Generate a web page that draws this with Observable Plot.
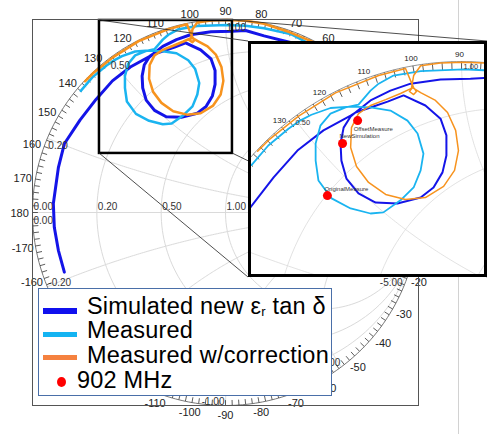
<!DOCTYPE html>
<html><head><meta charset="utf-8">
<script src="https://cdn.jsdelivr.net/npm/d3@7"></script>
<script src="https://cdn.jsdelivr.net/npm/@observablehq/plot@0.6"></script>
<style>
body{margin:0;background:#fff;font-family:"Liberation Sans",Arial,sans-serif;}
#wrap{position:relative;width:491px;height:434px;overflow:hidden;background:#fff;}
.abs{position:absolute;}
#inset{position:absolute;left:248px;top:41px;width:239px;height:236px;border:3px solid #000;box-sizing:border-box;background:#fff;overflow:hidden;}
.legbox{position:absolute;left:38px;top:288px;width:294px;height:108px;border:1.5px solid #4a6fa8;box-sizing:border-box;background:#fff;}
.legtxt{position:absolute;font-size:23.5px;line-height:20px;letter-spacing:0.2px;white-space:nowrap;color:#000;}
.sw{position:absolute;left:43px;width:34px;}
</style></head><body>
<div id="wrap"></div>
<script>
// ---------- data (reflection coefficient, real / imaginary) ----------
const seriesNames = ["Simulated new εr tan δ", "Measured", "Measured w/correction"];
const simRe = [-0.835,-0.866,-0.887,-0.892,-0.866,-0.835,-0.754,-0.671,-0.586,-0.493,-0.396,-0.379,-0.325,-0.264,-0.207,-0.129,-0.075,-0.054,-0.054,-0.068,-0.100,-0.146,-0.229,-0.307,-0.368,-0.411,-0.429,-0.432,-0.421,-0.396,-0.379,-0.325,-0.254,-0.182,-0.075,0.032,0.104,0.200,0.337,0.500,0.640];
const simIm = [-0.309,-0.196,-0.077,0.046,0.232,0.356,0.479,0.586,0.682,0.754,0.807,0.818,0.836,0.857,0.879,0.843,0.796,0.736,0.664,0.604,0.550,0.514,0.493,0.496,0.529,0.582,0.646,0.707,0.764,0.804,0.818,0.861,0.896,0.921,0.936,0.939,0.943,0.915,0.881,0.790,0.680];
const measRe = [-0.750,-0.690,-0.618,-0.575,-0.536,-0.468,-0.396,-0.325,-0.254,-0.193,-0.157,-0.136,-0.146,-0.171,-0.218,-0.279,-0.325,-0.396,-0.464,-0.511,-0.521,-0.521,-0.504,-0.468,-0.414,-0.368,-0.325,-0.296,-0.243,-0.146,0.007,0.104,0.200,0.337,0.500,0.620];
const measIm = [0.630,0.700,0.760,0.790,0.810,0.834,0.839,0.836,0.825,0.789,0.743,0.671,0.611,0.550,0.504,0.461,0.457,0.475,0.511,0.575,0.646,0.707,0.771,0.814,0.836,0.846,0.896,0.921,0.950,0.966,0.972,0.968,0.955,0.925,0.840,0.750];
const corrRe = [-0.728,-0.688,-0.582,-0.450,-0.296,-0.200,-0.182,-0.171,-0.161,-0.171,-0.186,-0.175,-0.146,-0.093,-0.050,-0.021,-0.011,-0.025,-0.064,-0.129,-0.200,-0.271,-0.332,-0.375,-0.396,-0.393,-0.368,-0.325,-0.271,-0.218,-0.179,-0.171,-0.146,-0.075,0.007,0.104,0.200,0.330,0.474,0.620];
const corrIm = [0.680,0.720,0.805,0.888,0.950,0.975,0.932,0.907,0.893,0.882,0.893,0.907,0.889,0.861,0.818,0.754,0.682,0.611,0.554,0.514,0.507,0.525,0.568,0.625,0.693,0.764,0.814,0.843,0.864,0.886,0.904,0.950,0.985,0.995,0.998,0.994,0.978,0.935,0.875,0.770];
const markerLabel = "902 MHz";
const markerNames = ["OffsetMeasure","NewSimulation","OriginalMeasure"];
const markerRe = [-0.371,-0.425,-0.479];
const markerIm = [0.789,0.707,0.521];
const angleLabels = [-170,-160,-150,-140,-130,-120,-110,-100,-90,-80,-70,-60,-50,-40,-30,-20,-10,0,10,20,30,40,50,60,70,80,90,100,110,120,130,140,150,160,170,180];
const rValues = [0.2,0.5,1,2,5];
const xValues = [0.2,0.5,1,2,5];
const rLabelValues = [0,0.2,0.5,1,2,5];
const xLabelValues = [0,0.2,0.5,1,2,5,-0.2,-0.5,-1,-2,-5];
const zoomRe = [-0.653,0.036];
const zoomIm = [0.306,0.995];
const insetRe = [-0.75,0.082];
const insetIm = [0.239,1.061];

// ---------- layout ----------
const W=491, H=434, ML=32, MR=73, MT=19, MB=29;
const insetBox = {left:248, top:41, right:487, bottom:277};
const legendBox = {left:38, top:288, right:332, bottom:396};

// ---------- helpers ----------
const FONT = "Liberation Sans, Arial, sans-serif";
const rad = a => a*Math.PI/180;
const pts = (re, im) => re.map((r,i)=>({re:r, im:im[i]}));
const sim = pts(simRe, simIm), meas = pts(measRe, measIm), corr = pts(corrRe, corrIm);
const markers = markerNames.map((n,i)=>({name:n, re:markerRe[i], im:markerIm[i]}));
const C_SIM="#1414e8", C_MEAS="#1ab4f0", C_CORR="#f7931e";

const pageX = re => ML + (re+1)/2*(W-ML-MR);
const pageY = im => MT + (1-im)/2*(H-MT-MB);
const inBox = (x,y,b,px,py) => x>b.left+px && x<b.right-px && y>b.top+py && y<b.bottom-py;
const visible = (re,im,dx=0,dy=0) => {const x=pageX(re)+dx, y=pageY(im)+dy;
  return !inBox(x,y,insetBox,6,3) && !inBox(x,y,legendBox,6,3);};

function gridLines(){
  const out=[];
  rValues.forEach(r=>{const c=r/(1+r), rr=1/(1+r);
    for(let a=0;a<=360;a+=2) out.push({id:"r"+r, re:c+rr*Math.cos(rad(a)), im:rr*Math.sin(rad(a))});});
  xValues.forEach(x=>[x,-x].forEach(xv=>{
    for(let u=0;u<89.95;u+=0.5){const s=Math.tan(rad(u)); const D=(s+1)**2+xv*xv;
      out.push({id:"x"+xv, re:(s*s+xv*xv-1)/D, im:2*xv/D});}
    out.push({id:"x"+xv, re:1, im:0});}));
  out.push({id:"axis",re:-1,im:0},{id:"axis",re:1,im:0});
  return out;
}
const grid = gridLines();
const ring = d3.range(0,361,1).map(a=>({re:Math.cos(rad(a)), im:Math.sin(rad(a))}));
const tickAngles = d3.range(0,360,2);
const xPos = x => ({v:x, re:(x*x-1)/(x*x+1), im:2*x/(x*x+1)});
const fmt = v => v.toFixed(2);

const angleMain = angleLabels.map(a=>({a, re:1.067*Math.cos(rad(a)), im:1.045*Math.sin(rad(a))-0.005}))
  .filter(d=>visible(d.re,d.im));
const rl = rLabelValues.map(r=>({v:r, re:(r-1)/(r+1), im:0})).filter(d=>visible(d.re,d.im,10,-6));
const xl = xLabelValues.map(xPos).filter(d=>visible(d.re,d.im,0,d.v>=0?8:-4));
const xlPosStart = xl.filter(d=>d.v>=0 && d.re<=0.01);
const xlPosEnd = xl.filter(d=>d.v>=0 && d.re>0.01);
const xlNegStart = xl.filter(d=>d.v<0 && d.re<-0.01);
const xlNegEnd = xl.filter(d=>d.v<0 && d.re>=-0.01);

function chartMarks(o){
  return [
    Plot.line(grid, {x:"re", y:"im", z:"id", stroke:"#dadada", strokeWidth:o.gw, clip:o.clip}),
    Plot.line(ring, {x:"re", y:"im", stroke:"#777", strokeWidth:o.gw, clip:o.clip}),
    Plot.link(tickAngles, {x1:a=>Math.cos(rad(a)), y1:a=>Math.sin(rad(a)), x2:a=>0.972*Math.cos(rad(a)), y2:a=>0.972*Math.sin(rad(a)), stroke:"#333", strokeWidth:0.8, clip:o.clip}),
  ];
}

const wrap = document.getElementById("wrap");

// ---------- main Smith chart ----------
const main = Plot.plot({
  width:W, height:H, marginLeft:ML, marginRight:MR, marginTop:MT, marginBottom:MB,
  x:{domain:[-1,1], axis:null}, y:{domain:[-1,1], axis:null},
  style:{fontFamily:FONT, background:"white", overflow:"visible"},
  marks:[
    ...chartMarks({gw:1, clip:false}),
    Plot.line(sim, {x:"re", y:"im", stroke:C_SIM, strokeWidth:3, strokeLinejoin:"round", strokeLinecap:"round"}),
    Plot.line(meas, {x:"re", y:"im", stroke:C_MEAS, strokeWidth:2.5, strokeLinejoin:"round"}),
    Plot.line(corr, {x:"re", y:"im", stroke:C_CORR, strokeWidth:2.5, strokeLinejoin:"round"}),
    Plot.text(angleMain, {x:"re", y:"im", text:d=>String(d.a), fontSize:11, fill:"#222"}),
    Plot.text(rl, {x:"re", y:"im", text:d=>fmt(d.v), textAnchor:"start", dx:1, dy:-6, fontSize:10, fill:"#333"}),
    Plot.text(xlPosStart, {x:"re", y:"im", text:d=>fmt(d.v), textAnchor:"start", dx:1, dy:8, fontSize:10, fill:"#333"}),
    Plot.text(xlPosEnd, {x:"re", y:"im", text:d=>fmt(d.v), textAnchor:"end", dx:-1, dy:8, fontSize:10, fill:"#333"}),
    Plot.text(xlNegStart, {x:"re", y:"im", text:d=>fmt(d.v), textAnchor:"start", dx:1, dy:-4, fontSize:10, fill:"#333"}),
    Plot.text(xlNegEnd, {x:"re", y:"im", text:d=>fmt(d.v), textAnchor:"end", dx:-1, dy:-4, fontSize:10, fill:"#333"}),
    Plot.rect([0], {x1:()=>zoomRe[0], x2:()=>zoomRe[1], y1:()=>zoomIm[0], y2:()=>zoomIm[1], fill:"none", stroke:"#000", strokeWidth:2.5}),
    Plot.frame({stroke:"#555", strokeWidth:1})
  ]
});
main.style.position="absolute"; main.style.left="0px"; main.style.top="0px";
wrap.appendChild(main);

// page divider line
const vline = document.createElement("div");
vline.className="abs"; Object.assign(vline.style,{left:"458px",top:"0px",width:"1px",height:"434px",background:"#d2d2d2"});
wrap.appendChild(vline);

// ---------- zoom connector lines ----------
const sx = main.scale("x"), sy = main.scale("y");
const zx0=sx.apply(zoomRe[0]), zx1=sx.apply(zoomRe[1]), zyT=sy.apply(zoomIm[1]), zyB=sy.apply(zoomIm[0]);
const conn = [
  [zx0,zyT,insetBox.left,insetBox.top],[zx1,zyT,insetBox.right,insetBox.top],
  [zx0,zyB,insetBox.left,insetBox.bottom],[zx1,zyB,insetBox.right,insetBox.bottom]];
const ov = d3.create("svg").attr("width",W).attr("height",H).style("position","absolute").style("left","0px").style("top","0px");
ov.selectAll("line").data(conn).join("line")
  .attr("x1",d=>d[0]).attr("y1",d=>d[1]).attr("x2",d=>d[2]).attr("y2",d=>d[3])
  .attr("stroke","#222").attr("stroke-width",0.8);
wrap.appendChild(ov.node());

// ---------- inset (zoomed view) ----------
const insetDiv = document.createElement("div"); insetDiv.id="inset"; wrap.appendChild(insetDiv);
const insetAngles = angleLabels.filter(a=>a>=85 && a<=135);
const offsetM = markers.filter(d=>d.name==="OffsetMeasure");
const otherM = markers.filter(d=>d.name!=="OffsetMeasure");
const inset = Plot.plot({
  width:233, height:230, margin:0,
  x:{domain:insetRe, axis:null}, y:{domain:insetIm, axis:null},
  style:{fontFamily:FONT, background:"white"},
  marks:[
    ...chartMarks({gw:0.8, clip:true}),
    Plot.line(sim, {x:"re", y:"im", stroke:C_SIM, strokeWidth:2, strokeLinejoin:"round", clip:true}),
    Plot.line(meas, {x:"re", y:"im", stroke:C_MEAS, strokeWidth:1.8, strokeLinejoin:"round", clip:true}),
    Plot.line(corr, {x:"re", y:"im", stroke:C_CORR, strokeWidth:1.5, strokeLinejoin:"round", clip:true}),
    Plot.text(insetAngles, {x:a=>Math.cos(rad(a)), y:a=>Math.sin(rad(a)), text:a=>String(a), dx:-2, dy:-7, fontSize:8, fill:"#222"}),
    Plot.text([0.5,1], {x:v=>xPos(v).re, y:v=>xPos(v).im, text:fmt, textAnchor:"start", dx:2, dy:5, fontSize:7.5, fill:"#333"}),
    Plot.dot(markers, {x:"re", y:"im", r:4.5, fill:"#ff0000", stroke:"none"}),
    Plot.text(offsetM, {x:"re", y:"im", text:"name", textAnchor:"start", dx:-4, dy:8, fontSize:6, fill:"#333"}),
    Plot.text(otherM, {x:"re", y:"im", text:"name", textAnchor:"start", dx:-3, dy:-7, fontSize:6, fill:"#333"})
  ]
});
inset.style.display="block";
insetDiv.appendChild(inset);

// ---------- legend ----------
const legBox = document.createElement("div"); legBox.className="legbox"; wrap.appendChild(legBox);
const legColors = ["#1010ee","#14b4f2","#f5813f"];
const legH = [6,5,5];
const swY = [311,334,357];
const txtTop = [295.9,320.4,344.9];
seriesNames.forEach((n,i)=>{
  const s=document.createElement("div"); s.className="sw";
  Object.assign(s.style,{top:(swY[i]-legH[i]/2)+"px",height:legH[i]+"px",background:legColors[i]});
  wrap.appendChild(s);
  const t=document.createElement("div"); t.className="legtxt";
  t.style.left="87px"; t.style.top=txtTop[i]+"px";
  if(i===0){
    const parts=n.split("εr");
    t.innerHTML = parts[0]+'ε<span style="font-size:13px;vertical-align:-1.5px;line-height:0">r</span>'+parts[1];
  } else t.textContent=n;
  wrap.appendChild(t);
});
const dot=document.createElement("div"); dot.className="abs";
Object.assign(dot.style,{left:"56.5px",top:"377px",width:"9px",height:"10px",borderRadius:"50%",background:"#ff0000"});
wrap.appendChild(dot);
const mt=document.createElement("div"); mt.className="legtxt"; mt.style.left="77px"; mt.style.top="369.9px"; mt.textContent=markerLabel;
wrap.appendChild(mt);
</script>
</body></html>
